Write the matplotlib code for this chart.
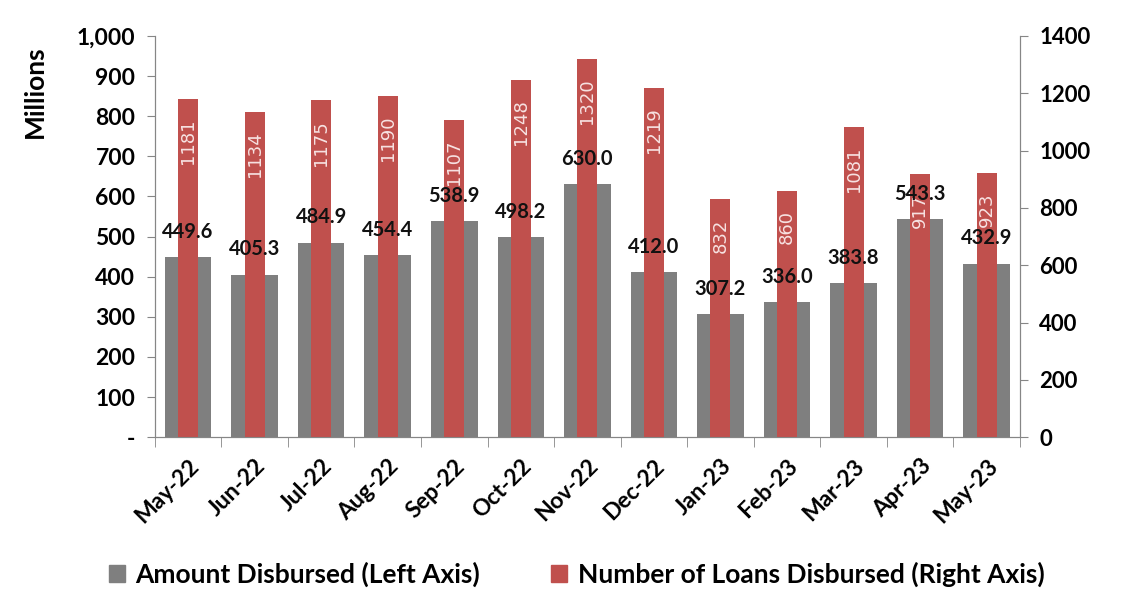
import numpy as np
import matplotlib.pyplot as plt
from matplotlib.patches import Patch
from matplotlib.ticker import FuncFormatter

plt.rcParams['font.family'] = ['Lato', 'DejaVu Sans']

# Données mensuelles
months = ['May-22', 'Jun-22', 'Jul-22', 'Aug-22', 'Sep-22', 'Oct-22', 'Nov-22',
          'Dec-22', 'Jan-23', 'Feb-23', 'Mar-23', 'Apr-23', 'May-23']
amount = [449.6, 405.3, 484.9, 454.4, 538.9, 498.2, 630.0, 412.0, 307.2, 336.0, 383.8, 543.3, 432.9]
loans = [1181, 1134, 1175, 1190, 1107, 1248, 1320, 1219, 832, 860, 1081, 917, 923]

gray = '#7f7f7f'
red = '#c0504d'
axis_col = '#868686'

fig = plt.figure(figsize=(11.22, 5.90), dpi=100)
ax = fig.add_axes([0.138, 0.259, 0.771, 0.68])
ax2 = ax.twinx()

x = np.arange(len(months))

# Montant (axe gauche), barres larges
ax.bar(x, amount, width=0.7, color=gray, zorder=1)
ax.set_ylim(0, 1000)
ax.set_xlim(-0.5, len(months) - 0.5)

# Nombre de prêts (axe droit), barres étroites devant
ax2.bar(x, loans, width=0.3, color=red, zorder=2)
ax2.set_ylim(0, 1400)

# Etiquettes des prêts dans les barres rouges
for xi, v in zip(x, loans):
    ax2.annotate(str(v), (xi, v), xytext=(0, -14), textcoords='offset points',
                 rotation=90, ha='center', va='top', fontsize=13,
                 color='#f7e2e2', family=['DejaVu Sans'], zorder=5)

# Etiquettes des montants au-dessus des barres grises (devant tout)
for xi, v in zip(x, amount):
    ax2.annotate(f"{v:.1f}", (xi, v * 1.4), xytext=(0, 11), textcoords='offset points',
                 ha='center', va='bottom', fontsize=14.5, fontweight='bold',
                 color='#111111', zorder=6)

# Axes
ax.yaxis.set_major_locator(plt.MultipleLocator(100))
ax.yaxis.set_major_formatter(FuncFormatter(lambda v, p: '-' if v == 0 else f"{int(v):,}"))
ax2.yaxis.set_major_locator(plt.MultipleLocator(200))

ax.set_xticks(x)
ax.set_xticklabels(months, rotation=45, ha='right', rotation_mode='anchor',
                   fontsize=16.5, fontweight='bold')
ax.set_xticks(np.arange(-0.5, len(months), 1), minor=True)
ax.tick_params(axis='x', which='major', length=0, pad=13)
ax.tick_params(axis='x', which='minor', length=7, color=axis_col, direction='out')
ax.tick_params(axis='y', length=6, color=axis_col, labelsize=16.5, pad=8)
ax2.tick_params(axis='y', length=6, color=axis_col, labelsize=16, pad=8)
for lab in ax.get_yticklabels() + ax2.get_yticklabels():
    lab.set_fontweight('bold')

fig.text(0.031, 0.844, 'Millions', rotation=90, ha='center', va='center',
         fontsize=19, fontweight='bold')

for a in (ax, ax2):
    a.spines['top'].set_visible(False)
    for s in ('left', 'right', 'bottom'):
        a.spines[s].set_color(axis_col)

ax.set_zorder(ax2.get_zorder() - 1)
ax2.patch.set_visible(False)

handles = [Patch(color=gray, label='Amount Disbursed (Left Axis)'),
           Patch(color=red, label='Number of Loans Disbursed (Right Axis)')]
fig.legend(handles=handles, loc='center', bbox_to_anchor=(0.514, 0.026), ncol=2,
           frameon=False, handlelength=0.6, handleheight=0.6, handletextpad=0.4,
           columnspacing=2.7, prop={'size': 19, 'weight': 'bold'})

fig.savefig('out.png', dpi=100)
